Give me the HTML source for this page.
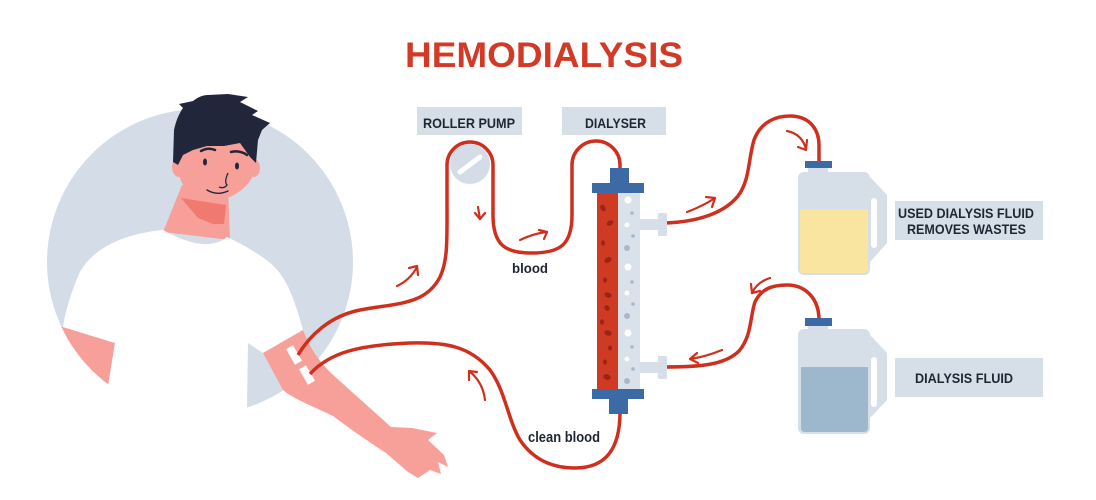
<!DOCTYPE html>
<html><head><meta charset="utf-8"><style>
html,body{margin:0;padding:0;background:#fff;}
svg{display:block;}
text{font-family:"Liberation Sans",sans-serif;font-weight:bold;}
</style></head><body>
<svg width="1096" height="500" viewBox="0 0 1096 500" xmlns="http://www.w3.org/2000/svg">
<defs>
<clipPath id="cc"><circle cx="200" cy="262" r="153"/></clipPath>
</defs>
<rect width="1096" height="500" fill="#fff"/>
<!-- title -->
<text x="405" y="67" font-size="35" fill="#d23a27" textLength="278" lengthAdjust="spacingAndGlyphs">HEMODIALYSIS</text>

<!-- person -->
<circle cx="200" cy="262" r="153" fill="#d4dde7"/>
<g clip-path="url(#cc)">
<polygon points="40,320 63,327 115,343 108,386 40,400" fill="#f7a09a"/>
</g>
<!-- neck -->
<path d="M182,185 L228,185 L230,240 L163,232 Z" fill="#f7a09a"/>
<path d="M181,198 L198,218 L213,224 L224,224 L226,205 Z" fill="#f07a70"/>
<!-- shirt -->
<path d="M163,230 C130,233 95,245 80,272 C72,290 66,308 63,327 L115,343 L108,386 L100,500 L247,500 L247,407 L248,343 L263,353 L303,330 C296,305 290,288 283,278 C276,266 262,254 227,237 C215,247 195,248 163,230 Z" fill="#fff"/>
<!-- arm -->
<path d="M263,353 L303,330 C310,348 318,360 332,374 L391,427 L412,428 L437,433 L428,440 L444,455 L448,467 L438,462 L441,474 L430,470 L418,478 L408,472 L386,453 C360,436 345,425 333,416 C310,405 292,398 283,390 Z" fill="#f7a09a"/>
<rect x="290" y="346" width="8" height="18" fill="#fff" transform="rotate(-30 294 355)"/>
<rect x="303" y="366" width="8" height="18" fill="#fff" transform="rotate(-30 307 375)"/>
<!-- ears -->
<ellipse cx="179" cy="167" rx="7" ry="10" fill="#f7a09a"/>
<ellipse cx="254" cy="168" rx="6" ry="9" fill="#f7a09a"/>
<!-- face -->
<path d="M180,140 L180,178 C184,192 200,199 216,201 C234,198 246,188 252,178 L255,140 Z" fill="#f7a09a"/>
<!-- hair -->
<path d="M173,162 L174,130 C176,120 180,112 183,108 L179,104 L193,101 C198,97 203,95 208,95 L228,94 L248,97 L240,102 L258,111 L252,115 L270,123 L262,130 L258,140 L256,163 L250,157 L240,143 L224,146 L207,146 L193,150 L183,155 L178,165 Z" fill="#22263a"/>
<!-- brows eyes nose mouth -->
<path d="M201,151 Q208,147 215,150" stroke="#22263a" stroke-width="2.5" fill="none" stroke-linecap="round"/>
<path d="M231,152 Q240,150 247,155" stroke="#22263a" stroke-width="2.5" fill="none" stroke-linecap="round"/>
<ellipse cx="205" cy="162" rx="2" ry="3.5" fill="#22263a"/>
<ellipse cx="237" cy="166" rx="2" ry="3.5" fill="#22263a"/>
<path d="M228,173 Q224,182 227,185 Q224,189 219,187" stroke="#22263a" stroke-width="1.3" fill="none"/>
<path d="M207,190 Q217,196 228,191" stroke="#22263a" stroke-width="1.4" fill="none" stroke-linecap="round"/>

<!-- labels -->
<rect x="417" y="107" width="105" height="28" fill="#d6dee8"/>
<text x="423" y="128" font-size="14" fill="#1f2633" textLength="92" lengthAdjust="spacingAndGlyphs">ROLLER PUMP</text>
<rect x="562" y="107" width="104" height="28" fill="#d6dee8"/>
<text x="585" y="128" font-size="14" fill="#1f2633" textLength="61" lengthAdjust="spacingAndGlyphs">DIALYSER</text>
<rect x="895" y="201" width="148" height="39" fill="#d6dee8"/>
<text x="898" y="218" font-size="14" fill="#1f2633" textLength="136" lengthAdjust="spacingAndGlyphs">USED DIALYSIS FLUID</text>
<text x="907" y="234" font-size="14" fill="#1f2633" textLength="119" lengthAdjust="spacingAndGlyphs">REMOVES WASTES</text>
<rect x="895" y="358" width="148" height="39" fill="#d6dee8"/>
<text x="915" y="383" font-size="14" fill="#1f2633" textLength="98" lengthAdjust="spacingAndGlyphs">DIALYSIS FLUID</text>
<text x="512" y="273" font-size="14" fill="#1f2633" textLength="36" lengthAdjust="spacingAndGlyphs">blood</text>
<text x="528" y="442" font-size="14.5" fill="#1f2633" textLength="72" lengthAdjust="spacingAndGlyphs">clean blood</text>

<!-- pump -->
<circle cx="470" cy="164" r="20" fill="#d4dde7"/>
<line x1="460" y1="172" x2="480" y2="157" stroke="#fff" stroke-width="5" stroke-linecap="round"/>

<!-- tubes -->
<g fill="none" stroke="#cf2f1d" stroke-width="3.5">
<path d="M298,355 C310,335 330,316 360,310 C395,303 425,306 440,277 C448,260 447,240 447,200 L447,165 A23,23 0 0 1 493,165 L493,215 C493,245 505,253 532,253 C560,253 572,245 572,215 L572,165 A24,24 0 0 1 620,165 L620,170"/>
<path d="M310,374 C330,352 360,345 410,343 C445,342 470,346 490,370 C505,390 508,420 520,440 C535,462 555,468 575,468 C605,468 620,450 620,412"/>
<path d="M664,223 C700,222 725,212 738,196 C750,180 748,160 754,140 C761,121 777,116 790,116 C810,116 819,130 819,145 L819,163"/>
<path d="M664,367 C700,367 725,365 739,351 C752,336 750,316 755,302 C761,289 772,285 787,285 C805,285 819,298 819,320"/>
</g>
<!-- arrows -->
<g fill="none" stroke="#cf2f1d" stroke-width="2.2" stroke-linecap="round" stroke-linejoin="round">
<path d="M397,286 Q410,280 417,267"/><path d="M409,268 L417,266 L418,275"/>
<path d="M478,207 L480,219"/><path d="M475,213 L480,219 L485,213"/>
<path d="M520,240 Q535,233 547,232"/><path d="M539,230 L547,232 L544,239"/>
<path d="M485,400 Q483,382 469,371"/><path d="M477,372 L469,371 L469,380"/>
<path d="M687,212 Q703,206 715,198"/><path d="M706,197 L715,198 L712,207"/>
<path d="M787,131 Q802,134 806,149"/><path d="M807,140 L806,150 L798,147"/>
<path d="M770,278 Q757,282 752,293"/><path d="M751,284 L752,293 L760,291"/>
<path d="M722,350 Q705,357 690,359"/><path d="M697,353 L690,359 L698,363"/>
</g>

<!-- dialyser -->
<rect x="640" y="219" width="20" height="11" fill="#d6dee8"/>
<rect x="658" y="213" width="9" height="23" rx="1.5" fill="#d6dee8"/>
<rect x="640" y="362" width="20" height="11" fill="#d6dee8"/>
<rect x="658" y="356" width="9" height="23" rx="1.5" fill="#d6dee8"/>
<rect x="597" y="192" width="22" height="198" fill="#cf3a22"/>
<rect x="618" y="192" width="22" height="198" fill="#d9e1ea"/>
<g fill="#fff">
<circle cx="628" cy="200" r="3.5"/><circle cx="627" cy="225" r="2.5"/><circle cx="628" cy="267" r="3.5"/>
<circle cx="627" cy="293" r="2.5"/><circle cx="628" cy="333" r="3.5"/><circle cx="627" cy="359" r="2.5"/>
</g>
<g fill="#a9b8c8">
<circle cx="632" cy="213" r="1.8"/><circle cx="633" cy="236" r="1.8"/><circle cx="627" cy="248" r="3"/>
<circle cx="632" cy="282" r="1.8"/><circle cx="633" cy="304" r="1.8"/><circle cx="627" cy="316" r="3"/>
<circle cx="632" cy="347" r="1.8"/><circle cx="633" cy="369" r="1.8"/><circle cx="627" cy="381" r="3"/>
</g>
<g fill="#9a2516">
<ellipse cx="603" cy="208" rx="2.5" ry="3.5" transform="rotate(-30 603 208)"/>
<ellipse cx="610" cy="223" rx="3.5" ry="2.5" transform="rotate(-30 610 223)"/>
<ellipse cx="603" cy="243" rx="2" ry="2.8"/>
<ellipse cx="608" cy="260" rx="3.8" ry="2.6" transform="rotate(-30 608 260)"/>
<ellipse cx="605" cy="280" rx="2" ry="2.6"/>
<ellipse cx="608" cy="295" rx="3.8" ry="2.6" transform="rotate(20 608 295)"/>
<ellipse cx="607" cy="308" rx="2.5" ry="3" transform="rotate(-30 607 308)"/>
<ellipse cx="602" cy="322" rx="2" ry="2.8"/>
<ellipse cx="608" cy="333" rx="3.8" ry="2.6" transform="rotate(20 608 333)"/>
<ellipse cx="610" cy="348" rx="2" ry="2.6"/>
<ellipse cx="605" cy="362" rx="2" ry="2.6"/>
<ellipse cx="607" cy="377" rx="3.8" ry="2.8" transform="rotate(20 607 377)"/>
</g>
<g fill="#3b6aa5">
<rect x="610" y="168" width="19" height="16"/>
<rect x="592" y="183" width="52" height="10"/>
<rect x="592" y="389" width="52" height="10"/>
<rect x="609" y="398" width="19" height="16"/>
</g>

<!-- jug 1 -->
<path d="M870,177 L887,195 L887,243 L870,262 Z" fill="#d6dee8"/>
<rect x="871" y="198" width="6" height="50" rx="3" fill="#fff"/>
<rect x="808" y="166" width="20" height="8" fill="#d6dee8"/>
<rect x="798" y="172" width="72" height="103" rx="6" fill="#d6dee8"/>
<path d="M800,209 L868,209 L868,269 Q868,273 864,273 L804,273 Q800,273 800,269 Z" fill="#fae5a0"/>
<rect x="805" y="161" width="27" height="7" fill="#3b6aa5"/>
<!-- jug 2 -->
<path d="M870,335 L887,353 L887,400 L870,418 Z" fill="#d6dee8"/>
<rect x="871" y="357" width="6" height="50" rx="3" fill="#fff"/>
<rect x="808" y="324" width="20" height="8" fill="#d6dee8"/>
<rect x="798" y="329" width="72" height="105" rx="6" fill="#d6dee8"/>
<path d="M801,367 L868,367 L868,428 Q868,432 864,432 L805,432 Q801,432 801,428 Z" fill="#9db8cc"/>
<rect x="805" y="318" width="27" height="8" fill="#3b6aa5"/>
</svg>
</body></html>
